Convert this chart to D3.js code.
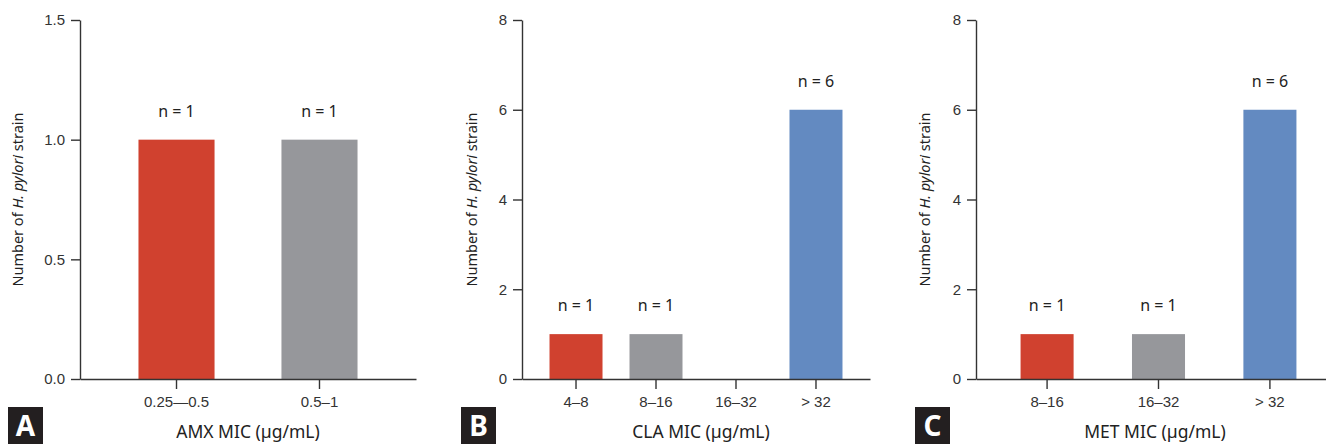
<!DOCTYPE html>
<html>
<head>
<meta charset="utf-8">
<script src="https://cdn.jsdelivr.net/npm/d3@7"></script>
<style>
  body { margin: 0; background: #fff; }
  svg { display: block; font-family: "Noto Sans", "Open Sans", sans-serif; }
  .tick text { fill: #333; font-size: 15px; }
  .domain, .tick line { stroke: #333; stroke-width: 1.4px; }
</style>
</head>
<body>
<div class="chart"></div>
<script>
// data
var amxCats = ["0.25\u20140.5", "0.5\u20131"];
var amxVals = [1, 1];
var claCats = ["4\u20138", "8\u201316", "16\u201332", "> 32"];
var claVals = [1, 1, 0, 6];
var metCats = ["8\u201316", "16\u201332", "> 32"];
var metVals = [1, 1, 6];
var amxTicks = [0, 0.5, 1.0, 1.5];
var countTicks = [0, 2, 4, 6, 8];

var RED = "#d0412f", GRAY = "#96979b", BLUE = "#638ac1";

var svgWidth = 1326;
var svgHeight = 444;
var top0 = 20, bottom0 = 379;

var svg = d3.select(".chart")
  .append("svg")
  .attr("width", svgWidth)
  .attr("height", svgHeight);

function drawPanel(p) {
  var g = svg.append("g");
  var rows = p.cats.map((c, i) => ({cat: c, val: p.vals[i], color: p.colors[i]}));

  var x = d3.scaleBand()
    .domain(p.cats)
    .range([p.x0, p.x1])
    .paddingInner(p.pi)
    .paddingOuter(p.po);

  var y = d3.scaleLinear()
    .domain([0, p.ymax])
    .range([bottom0, top0]);

  // bars
  g.selectAll("rect")
    .data(rows)
    .enter()
    .append("rect")
    .attr("x", d => x(d.cat))
    .attr("y", d => y(d.val))
    .attr("width", x.bandwidth())
    .attr("height", d => bottom0 - y(d.val))
    .attr("fill", d => d.color);

  // n = labels
  g.selectAll(".nlab")
    .data(rows.filter(d => d.val > 0))
    .enter()
    .append("text")
    .attr("class", "nlab")
    .attr("x", d => x(d.cat) + x.bandwidth() / 2)
    .attr("y", d => y(d.val) - 23)
    .attr("text-anchor", "middle")
    .attr("font-size", "16px")
    .attr("fill", "#222")
    .text(d => "n = " + d.val);

  // axes
  g.append("g")
    .attr("transform", `translate(0, ${bottom0})`)
    .call(d3.axisBottom(x).tickSize(10).tickSizeOuter(0).tickPadding(7));

  g.append("g")
    .attr("transform", `translate(${p.x0}, 0)`)
    .call(d3.axisLeft(y).tickValues(p.ticks).tickFormat(p.fmt).tickSize(9).tickSizeOuter(0).tickPadding(6));

  // axis titles
  var yt = g.append("text")
    .attr("transform", `translate(${p.yTitleX}, ${(top0 + bottom0) / 2}) rotate(-90)`)
    .attr("text-anchor", "middle")
    .attr("dy", "0.35em")
    .attr("font-size", "14.5px")
    .attr("fill", "#222");
  yt.append("tspan").text("Number of ");
  yt.append("tspan").attr("font-style", "italic").text("H. pylori");
  yt.append("tspan").text(" strain");

  g.append("text")
    .attr("x", p.xTitleX)
    .attr("y", 438)
    .attr("text-anchor", "middle")
    .attr("font-size", "17.5px")
    .attr("fill", "#222")
    .text(p.xTitle);

  // panel letter
  g.append("rect")
    .attr("x", p.boxX)
    .attr("y", 407)
    .attr("width", 35)
    .attr("height", 37)
    .attr("fill", "#231f20");
  g.append("text")
    .attr("x", p.boxX + 17.5)
    .attr("y", 436)
    .attr("text-anchor", "middle")
    .attr("font-size", "28px")
    .attr("font-weight", "bold")
    .attr("fill", "#fff")
    .text(p.letter);
}

drawPanel({
  cats: amxCats, vals: amxVals, colors: [RED, GRAY],
  x0: 80, x1: 416, pi: 0.468, po: 0.409,
  ymax: 1.5, ticks: amxTicks, fmt: d3.format(".1f"),
  yTitleX: 18, xTitleX: 248, xTitle: "AMX MIC (\u00b5g/mL)",
  boxX: 8, letter: "A"
});

drawPanel({
  cats: claCats, vals: claVals, colors: [RED, GRAY, GRAY, BLUE],
  x0: 522, x1: 870, pi: 0.3375, po: 0.344,
  ymax: 8, ticks: countTicks, fmt: d3.format("d"),
  yTitleX: 472, xTitleX: 701, xTitle: "CLA MIC (\u00b5g/mL)",
  boxX: 461, letter: "B"
});

drawPanel({
  cats: metCats, vals: metVals, colors: [RED, GRAY, BLUE],
  x0: 976, x1: 1341, pi: 0.524, po: 0.40,
  ymax: 8, ticks: countTicks, fmt: d3.format("d"),
  yTitleX: 925, xTitleX: 1155, xTitle: "MET MIC (\u00b5g/mL)",
  boxX: 915, letter: "C"
});
</script>
</body>
</html>
